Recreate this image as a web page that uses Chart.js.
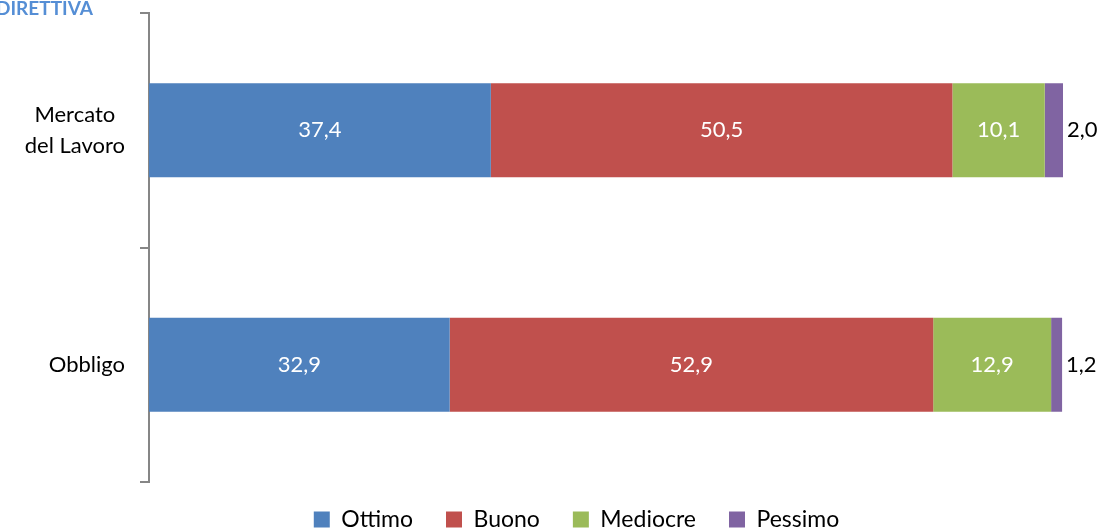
<!DOCTYPE html>
<html>
<head>
<meta charset="utf-8">
<script src="https://cdn.jsdelivr.net/npm/chart.js@4"></script>
<style>
  html, body { margin: 0; padding: 0; background: #fff; }
  #wrap { position: relative; width: 1103px; height: 531px; }
  #titolo { position: absolute; left: -4px; top: -4px; font-family: Lato, "Open Sans", sans-serif; font-weight: bold; font-size: 19px; color: #558ed5; }
</style>
</head>
<body>
<div id="wrap">
  <canvas id="grafico" width="1103" height="531"></canvas>
  <div id="titolo">DIRETTIVA</div>
</div>
<script>
const categorie = [["Mercato", "del Lavoro"], "Obbligo"];
const ottimo = [37.4, 32.9];
const buono = [50.5, 52.9];
const mediocre = [10.1, 12.9];
const pessimo = [2.0, 1.2];

const font = "Lato, 'Open Sans', sans-serif";

// etichette dei valori sulle barre + etichette categorie (righe centrate, blocco allineato a destra)
const etichette = {
  id: "etichette",
  afterLayout(chart) {
    // sposto la legenda un po' piu' in alto e a destra
    chart.legend.top -= 7;
    chart.legend.bottom -= 7;
    chart.legend.left += 45;
    chart.legend.right += 45;
  },
  afterDatasetsDraw(chart) {
    const ctx = chart.ctx;
    ctx.save();
    ctx.font = "22px " + font;
    ctx.textBaseline = "middle";
    chart.data.datasets.forEach((ds, i) => {
      const meta = chart.getDatasetMeta(i);
      meta.data.forEach((bar, j) => {
        const testo = ds.data[j].toFixed(1).replace(".", ",");
        if (i === 3) {
          ctx.fillStyle = "#000";
          ctx.textAlign = "left";
          ctx.fillText(testo, bar.x + 4, bar.y);
        } else {
          ctx.fillStyle = "#fff";
          ctx.textAlign = "center";
          ctx.fillText(testo, (bar.x + bar.base) / 2, bar.y);
        }
      });
    });

    const asseY = chart.scales.y;
    ctx.fillStyle = "#000";
    ctx.textAlign = "center";
    const destra = asseY.right - 24;
    chart.data.labels.forEach((lab, j) => {
      const righe = Array.isArray(lab) ? lab : [lab];
      let larg = 0;
      righe.forEach((r) => { larg = Math.max(larg, ctx.measureText(r).width); });
      const cx = destra - larg / 2;
      const y0 = asseY.getPixelForTick(j) - (righe.length - 1) * 31 / 2;
      righe.forEach((r, k) => ctx.fillText(r, cx, y0 + k * 31));
    });
    ctx.restore();
  }
};

var ctx = document.getElementById("grafico").getContext("2d");
var chart = new Chart(ctx, {
  type: "bar",
  data: {
    labels: categorie,
    datasets: [
      { label: "Ottimo", data: ottimo, backgroundColor: "#4f81bd" },
      { label: "Buono", data: buono, backgroundColor: "#c0504d" },
      { label: "Mediocre", data: mediocre, backgroundColor: "#9bbb59" },
      { label: "Pessimo", data: pessimo, backgroundColor: "#8064a2" },
    ],
  },
  options: {
    indexAxis: "y",
    responsive: false,
    animation: false,
    layout: { padding: { top: 13, right: 40, left: 0, bottom: -17 } },
    datasets: { bar: { barPercentage: 0.5, categoryPercentage: 0.8 } },
    scales: {
      x: { stacked: true, min: 0, max: 100, display: false },
      y: {
        stacked: true,
        afterFit: function (scale) {
          scale.width = 149;
          scale.paddingTop = 0;
          scale.paddingBottom = 0;
        },
        grid: { drawOnChartArea: false, offset: true, tickLength: 9, color: "#868686", lineWidth: 2 },
        border: { display: true, color: "#868686", width: 2 },
        ticks: { display: false },
      },
    },
    plugins: {
      legend: {
        position: "bottom",
        labels: {
          boxWidth: 16,
          boxHeight: 16,
          color: "#000",
          padding: 33,
          font: { family: font, size: 23 },
        },
      },
      tooltip: { enabled: false },
    },
  },
  plugins: [etichette],
});
</script>
</body>
</html>
